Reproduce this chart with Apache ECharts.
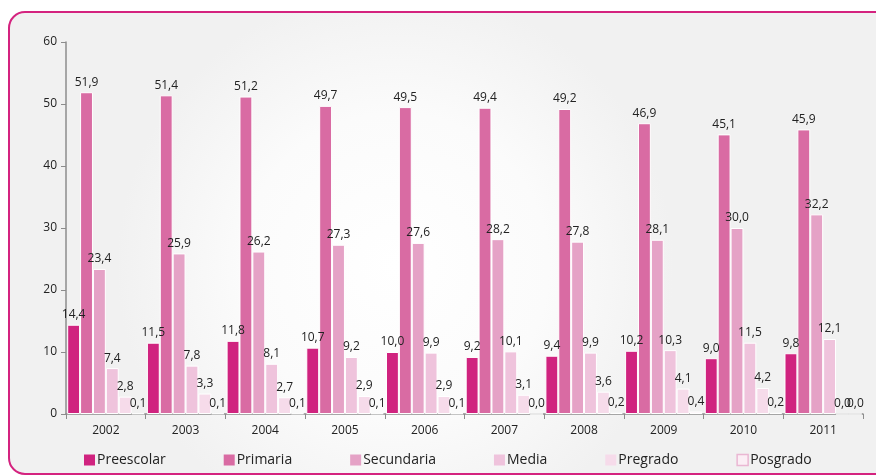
<!DOCTYPE html>
<html>
<head>
<meta charset="utf-8">
<script src="https://cdn.jsdelivr.net/npm/echarts@6/dist/echarts.min.js"></script>
<style>
  html, body { margin: 0; padding: 0; background: #fff; }
  #chart { width: 876px; height: 476px; }
</style>
</head>
<body>
<div id="chart"></div>
<script>
// Datos por nivel educativo, 2002-2011
const years = ['2002', '2003', '2004', '2005', '2006', '2007', '2008', '2009', '2010', '2011'];
const preescolar = [14.4, 11.5, 11.8, 10.7, 10.0, 9.2, 9.4, 10.2, 9.0, 9.8];
const primaria = [51.9, 51.4, 51.2, 49.7, 49.5, 49.4, 49.2, 46.9, 45.1, 45.9];
const secundaria = [23.4, 25.9, 26.2, 27.3, 27.6, 28.2, 27.8, 28.1, 30.0, 32.2];
const media = [7.4, 7.8, 8.1, 9.2, 9.9, 10.1, 9.9, 10.3, 11.5, 12.1];
const pregrado = [2.8, 3.3, 2.7, 2.9, 2.9, 3.1, 3.6, 4.1, 4.2, 0.0];
const posgrado = [0.1, 0.1, 0.1, 0.1, 0.1, 0.0, 0.2, 0.4, 0.2, 0.0];
const yTicks = [0, 10, 20, 30, 40, 50, 60];

const FONT = '"Open Sans", sans-serif';

function fmt(v) {
    return v.toFixed(1).replace('.', ',');
}

function makeSeries(name, data, color) {
    return {
        name: name,
        type: 'bar',
        data: data,
        barGap: '0%',
        barCategoryGap: '3%',
        itemStyle: { color: color, borderColor: '#fff', borderWidth: 1 },
        label: {
            show: true,
            position: 'top',
            distance: 4,
            color: '#222',
            fontFamily: FONT,
            fontSize: 12,
            formatter: function(p) { return fmt(p.value); }
        }
    };
}

const chart = echarts.init(document.getElementById('chart'));
chart.setOption({
    animation: false,
    backgroundColor: '#fff',
    graphic: [{
        type: 'rect',
        z: -100,
        silent: true,
        shape: { x: 9, y: 12, width: 920, height: 462, r: 16 },
        style: {
            fill: {
                type: 'radial', x: 0.42, y: 0.55, r: 0.6,
                colorStops: [{ offset: 0, color: '#ffffff' }, { offset: 0.55, color: '#fbfbfb' }, { offset: 1, color: '#f1f1f1' }]
            },
            stroke: '#d4237f',
            lineWidth: 2
        }
    }],
    grid: { left: 66, right: 13, top: 42, bottom: 62 },
    legend: {
        left: 84,
        top: 453,
        padding: 0,
        itemWidth: 11,
        itemHeight: 11,
        itemGap: 58,
        icon: 'rect',
        textStyle: { color: '#222', fontFamily: FONT, fontSize: 14, padding: [0, 0, 0, -3] },
        data: [
            { name: 'Preescolar', itemStyle: { borderWidth: 0 } },
            { name: 'Primaria', itemStyle: { borderWidth: 0 } },
            { name: 'Secundaria', itemStyle: { borderWidth: 0 } },
            { name: 'Media', itemStyle: { borderWidth: 0 } },
            { name: 'Pregrado', itemStyle: { borderWidth: 0 } },
            { name: 'Posgrado', itemStyle: { borderWidth: 1.5, borderColor: '#eab7d3' } }
        ]
    },
    xAxis: {
        type: 'category',
        data: years,
        axisLine: { lineStyle: { color: '#8c8c8c', width: 1.5 } },
        axisTick: { show: true, alignWithLabel: false, inside: false, length: 5, lineStyle: { color: '#8c8c8c' } },
        axisLabel: { color: '#222', fontFamily: FONT, fontSize: 12, margin: 11 }
    },
    yAxis: {
        type: 'value',
        min: yTicks[0],
        max: yTicks[yTicks.length - 1],
        interval: 10,
        axisLine: { show: true, lineStyle: { color: '#8c8c8c', width: 1.5 } },
        axisTick: { show: true, length: 5, lineStyle: { color: '#8c8c8c' } },
        splitLine: { show: false },
        axisLabel: { color: '#222', fontFamily: FONT, fontSize: 12, margin: 9 }
    },
    series: [
        makeSeries('Preescolar', preescolar, '#d0237f'),
        makeSeries('Primaria', primaria, '#d96ba3'),
        makeSeries('Secundaria', secundaria, '#e5a2c6'),
        makeSeries('Media', media, '#efc3dc'),
        makeSeries('Pregrado', pregrado, '#f6dbea'),
        makeSeries('Posgrado', posgrado, '#fbeef5')
    ]
});
</script>
</body>
</html>
